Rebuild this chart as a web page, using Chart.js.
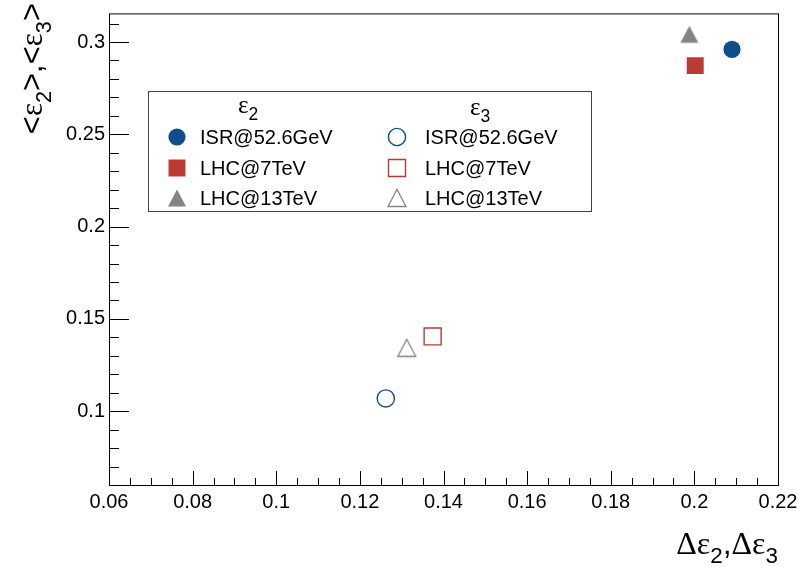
<!DOCTYPE html>
<html>
<head>
<meta charset="utf-8">
<script src="https://cdn.jsdelivr.net/npm/chart.js@4.4.1/dist/chart.umd.min.js"></script>
<style>
  html, body { margin: 0; padding: 0; background: #fff; }
  #contenedor { width: 801px; height: 567px; position: relative; }
</style>
</head>
<body>
<div id="contenedor"><canvas id="graficoEps"></canvas></div>
<script>
// Datos
const series = ['ISR@52.6GeV', 'LHC@7TeV', 'LHC@13TeV'];
const eps2X = [0.209, 0.2002, 0.1988];
const eps2Y = [0.296, 0.2872, 0.3042];
const eps3X = [0.1262, 0.1374, 0.1312];
const eps3Y = [0.1069, 0.1405, 0.1343];
const xTicks = [0.06, 0.08, 0.1, 0.12, 0.14, 0.16, 0.18, 0.2, 0.22];
const xTickLabels = ['0.06', '0.08', '0.1', '0.12', '0.14', '0.16', '0.18', '0.2', '0.22'];
const yTicks = [0.1, 0.15, 0.2, 0.25, 0.3];
const yTickLabels = ['0.1', '0.15', '0.2', '0.25', '0.3'];

const colores = ['#0d4f8b', '#b93b34', '#838488'];
const SANS = '"Liberation Sans", Arial, Helvetica, sans-serif';
const SERIF = '"Liberation Serif", "Times New Roman", serif';

// Triángulo estilo ROOT (centrado en su caja)
function triangulo(color, relleno) {
    const c = document.createElement('canvas');
    c.width = 22; c.height = 22;
    const g = c.getContext('2d');
    g.beginPath();
    g.moveTo(11, 2.5);
    g.lineTo(20, 19.5);
    g.lineTo(2, 19.5);
    g.closePath();
    if (relleno) {
        g.fillStyle = color;
        g.fill();
    } else {
        g.strokeStyle = color;
        g.lineWidth = 1.3;
        g.stroke();
    }
    return c;
}

const estilos = [
    { pointStyle: 'circle', radius: 8.6 },
    { pointStyle: 'rect', radius: 12 },
    { pointStyle: null, radius: 11 }
];

function hacerDataset(i, xs, ys, relleno) {
    const e = estilos[i];
    return {
        label: series[i] + (relleno ? ' e2' : ' e3'),
        data: [{ x: xs[i], y: ys[i] }],
        pointStyle: e.pointStyle || triangulo(colores[i], relleno),
        pointRadius: e.radius,
        pointBackgroundColor: relleno ? colores[i] : 'rgba(0,0,0,0)',
        pointBorderColor: colores[i],
        pointBorderWidth: relleno ? 0 : 1.4,
        showLine: false
    };
}

const datasets = [];
for (let i = 0; i < series.length; i++) datasets.push(hacerDataset(i, eps2X, eps2Y, true));
for (let i = 0; i < series.length; i++) datasets.push(hacerDataset(i, eps3X, eps3Y, false));

// Texto con subíndices: partes [texto, fuente('s'|'g'), sub]
function medirPartes(ctx, partes, size) {
    let w = 0;
    partes.forEach(p => {
        const s = p[2] ? size * 0.7 : size;
        ctx.font = s + 'px ' + (p[1] === 'g' ? SERIF : SANS);
        w += ctx.measureText(p[0]).width;
    });
    return w;
}
function dibujarPartes(ctx, partes, size, x, y) {
    let cx = x;
    partes.forEach(p => {
        const s = p[2] ? size * 0.7 : size;
        ctx.font = s + 'px ' + (p[1] === 'g' ? SERIF : SANS);
        ctx.fillText(p[0], cx, p[2] ? y + size * 0.28 : y);
        cx += ctx.measureText(p[0]).width;
    });
}

// Marco, marcas hacia dentro, títulos y leyenda
const marcoROOT = {
    id: 'marcoROOT',
    afterDraw(chart) {
        const ctx = chart.ctx;
        const a = chart.chartArea;
        const sx = chart.scales.x, sy = chart.scales.y;
        ctx.save();
        ctx.strokeStyle = '#000';
        ctx.lineWidth = 1;
        ctx.strokeRect(a.left + 0.5, a.top + 0.5, a.right - a.left, a.bottom - a.top);

        ctx.beginPath();
        for (let k = 0; k <= 32; k++) {
            const v = 0.06 + k * 0.005;
            const px = Math.round(sx.getPixelForValue(v)) + 0.5;
            const len = (k % 4 === 0) ? 14 : 7;
            ctx.moveTo(px, a.bottom);
            ctx.lineTo(px, a.bottom - len);
        }
        for (let k = 0; k <= 25; k++) {
            const v = 0.06 + k * 0.01;
            const py = Math.round(sy.getPixelForValue(v)) + 0.5;
            const len = ((k + 1) % 5 === 0) ? 20 : 10;
            ctx.moveTo(a.left, py);
            ctx.lineTo(a.left + len, py);
        }
        ctx.stroke();

        // Título eje X
        ctx.fillStyle = '#000';
        ctx.textBaseline = 'alphabetic';
        ctx.textAlign = 'left';
        const tx = [['Δ', 'g'], ['ε', 'g'], ['2', 's', 1], [',', 's'], ['Δ', 'g'], ['ε', 'g'], ['3', 's', 1]];
        const wx = medirPartes(ctx, tx, 32);
        dibujarPartes(ctx, tx, 32, a.right - wx, 554);

        // Título eje Y (girado)
        const ty = [['<', 's'], ['ε', 'g'], ['2', 's', 1], ['>', 's'], [',', 's'], ['<', 's'], ['ε', 'g'], ['3', 's', 1], ['>', 's']];
        ctx.save();
        ctx.translate(42, 3);
        ctx.rotate(-Math.PI / 2);
        const wy = medirPartes(ctx, ty, 31);
        dibujarPartes(ctx, ty, 31, -wy, 0);
        ctx.restore();

        // Leyenda
        ctx.strokeStyle = '#444';
        ctx.lineWidth = 1;
        ctx.strokeRect(148.5, 91.5, 443, 120);
        ctx.fillStyle = '#000';
        const h2 = [['ε', 'g'], ['2', 's', 1]];
        const h3 = [['ε', 'g'], ['3', 's', 1]];
        dibujarPartes(ctx, h2, 25, 248 - medirPartes(ctx, h2, 25) / 2, 113);
        dibujarPartes(ctx, h3, 25, 480 - medirPartes(ctx, h3, 25) / 2, 115);

        const filas = [137, 168, 198];
        for (let i = 0; i < series.length; i++) {
            const dsLleno = chart.data.datasets[i];
            const dsVacio = chart.data.datasets[i + 3];
            [[dsLleno, 177], [dsVacio, 397]].forEach(([ds, mx]) => {
                ctx.fillStyle = ds.pointBackgroundColor;
                ctx.strokeStyle = ds.pointBorderColor;
                ctx.lineWidth = ds.pointBorderWidth;
                Chart.helpers.drawPoint(ctx, {
                    pointStyle: ds.pointStyle,
                    radius: ds.pointRadius,
                    rotation: 0,
                    borderWidth: ds.pointBorderWidth
                }, mx, filas[i]);
            });
            ctx.fillStyle = '#000';
            ctx.font = '20px ' + SANS;
            ctx.textBaseline = 'middle';
            ctx.fillText(series[i], 200, filas[i] + 1);
            ctx.fillText(series[i], 425, filas[i] + 1);
            ctx.textBaseline = 'alphabetic';
        }
        ctx.restore();
    }
};

const ctxEps = document.getElementById('graficoEps').getContext('2d');
new Chart(ctxEps, {
    type: 'scatter',
    data: { datasets: datasets },
    options: {
        responsive: true,
        maintainAspectRatio: false,
        animation: false,
        events: [],
        layout: { padding: { top: 13, right: 23, left: 0, bottom: 0 } },
        plugins: {
            legend: { display: false },
            tooltip: { enabled: false }
        },
        scales: {
            x: {
                type: 'linear',
                min: 0.06,
                max: 0.22,
                grid: { display: false, drawTicks: false },
                border: { display: false },
                afterBuildTicks: scale => { scale.ticks = xTicks.map(v => ({ value: v })); },
                afterFit: scale => {
                    scale.height = 82;
                    scale.paddingLeft = 0;
                    scale.paddingRight = 0;
                },
                ticks: {
                    color: '#000',
                    padding: 5,
                    maxRotation: 0,
                    autoSkip: false,
                    font: { family: SANS, size: 20 },
                    callback: v => xTickLabels[xTicks.findIndex(t => Math.abs(t - v) < 1e-9)]
                }
            },
            y: {
                type: 'linear',
                min: 0.06,
                max: 0.3155,
                grid: { display: false, drawTicks: false },
                border: { display: false },
                afterBuildTicks: scale => { scale.ticks = yTicks.map(v => ({ value: v })); },
                afterFit: scale => {
                    scale.width = 109;
                    scale.paddingTop = 0;
                    scale.paddingBottom = 0;
                },
                ticks: {
                    color: '#000',
                    padding: 4,
                    autoSkip: false,
                    font: { family: SANS, size: 20 },
                    callback: v => yTickLabels[yTicks.findIndex(t => Math.abs(t - v) < 1e-9)]
                }
            }
        }
    },
    plugins: [marcoROOT]
});
</script>
</body>
</html>
